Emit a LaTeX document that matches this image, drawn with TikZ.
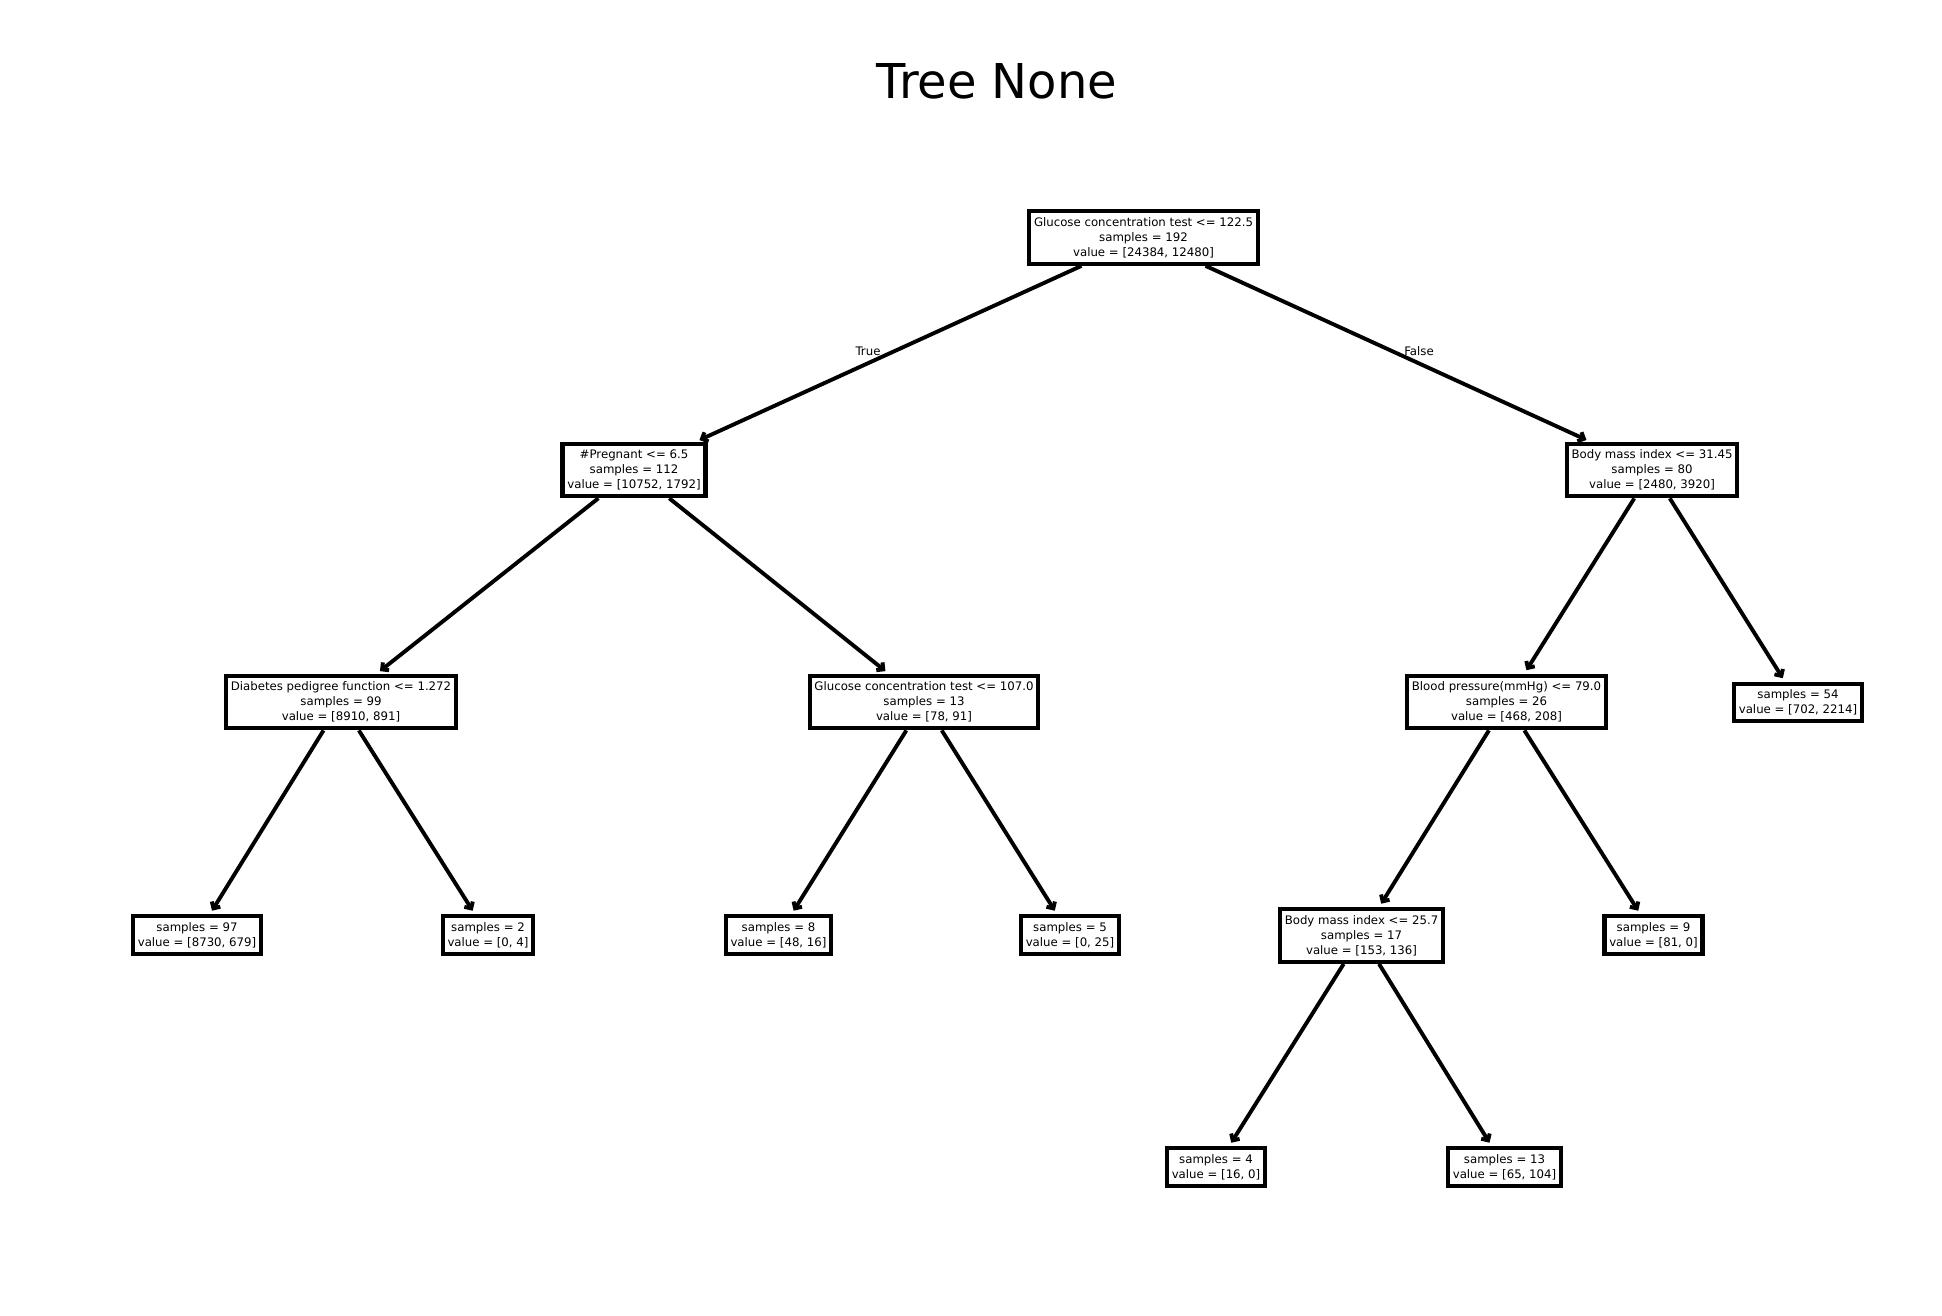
\documentclass[tikz,border=0pt]{standalone}
\usepackage{fontspec}
\setmainfont{DejaVu Sans}
\usetikzlibrary{arrows.meta}
\begin{document}
\begin{tikzpicture}[x=1pt,y=-1pt,
  tbox/.style={draw, line width=4.3pt, fill=white, align=center,
    font=\fontsize{11.75}{15}\selectfont, inner xsep=4.7pt, inner ysep=6pt},
  edge/.style={line width=3.9pt, shorten >=4pt, -{Straight Barb[length=5pt,width=10pt]}},
  lbl/.style={font=\fontsize{11.75}{15}\selectfont, inner sep=0pt}]
\useasboundingbox[fill=white] (0,0) rectangle (1942,1316);
\node[font=\fontsize{48}{56}\selectfont] (title) at (997,81) {Tree None};
\node[tbox] (root) at (1143.5,237.5) {Glucose concentration test <= 122.5\\samples = 192\\value = [24384, 12480]};
\node[tbox] (preg) at (634,470) {\#Pregnant <= 6.5\\samples = 112\\value = [10752, 1792]};
\node[tbox] (bmi1) at (1652,470) {Body mass index <= 31.45\\samples = 80\\value = [2480, 3920]};
\node[tbox] (diab) at (341,702) {Diabetes pedigree function <= 1.272\\samples = 99\\value = [8910, 891]};
\node[tbox] (gl107) at (924,702) {Glucose concentration test <= 107.0\\samples = 13\\value = [78, 91]};
\node[tbox] (bp) at (1506.5,702) {Blood pressure(mmHg) <= 79.0\\samples = 26\\value = [468, 208]};
\node[tbox] (s54) at (1798,702.5) {samples = 54\\value = [702, 2214]};
\node[tbox] (s97) at (197,935) {samples = 97\\value = [8730, 679]};
\node[tbox] (s2) at (488,935) {samples = 2\\value = [0, 4]};
\node[tbox] (s8) at (778.5,935) {samples = 8\\value = [48, 16]};
\node[tbox] (s5) at (1070,935) {samples = 5\\value = [0, 25]};
\node[tbox] (bmi2) at (1361.5,935.5) {Body mass index <= 25.7\\samples = 17\\value = [153, 136]};
\node[tbox] (s9) at (1653.5,935) {samples = 9\\value = [81, 0]};
\node[tbox] (s4) at (1216,1167) {samples = 4\\value = [16, 0]};
\node[tbox] (s13) at (1504.5,1167) {samples = 13\\value = [65, 104]};
\draw[edge] (root) -- (preg);
\draw[edge] (root) -- (bmi1);
\draw[edge] (preg) -- (diab);
\draw[edge] (preg) -- (gl107);
\draw[edge] (diab) -- (s97);
\draw[edge] (diab) -- (s2);
\draw[edge] (gl107) -- (s8);
\draw[edge] (gl107) -- (s5);
\draw[edge] (bmi1) -- (bp);
\draw[edge] (bmi1) -- (s54);
\draw[edge] (bp) -- (bmi2);
\draw[edge] (bp) -- (s9);
\draw[edge] (bmi2) -- (s4);
\draw[edge] (bmi2) -- (s13);
\node[lbl] (ltrue) at (868,351) {True};
\node[lbl] (lfalse) at (1419,351) {False};
\end{tikzpicture}
\end{document}
